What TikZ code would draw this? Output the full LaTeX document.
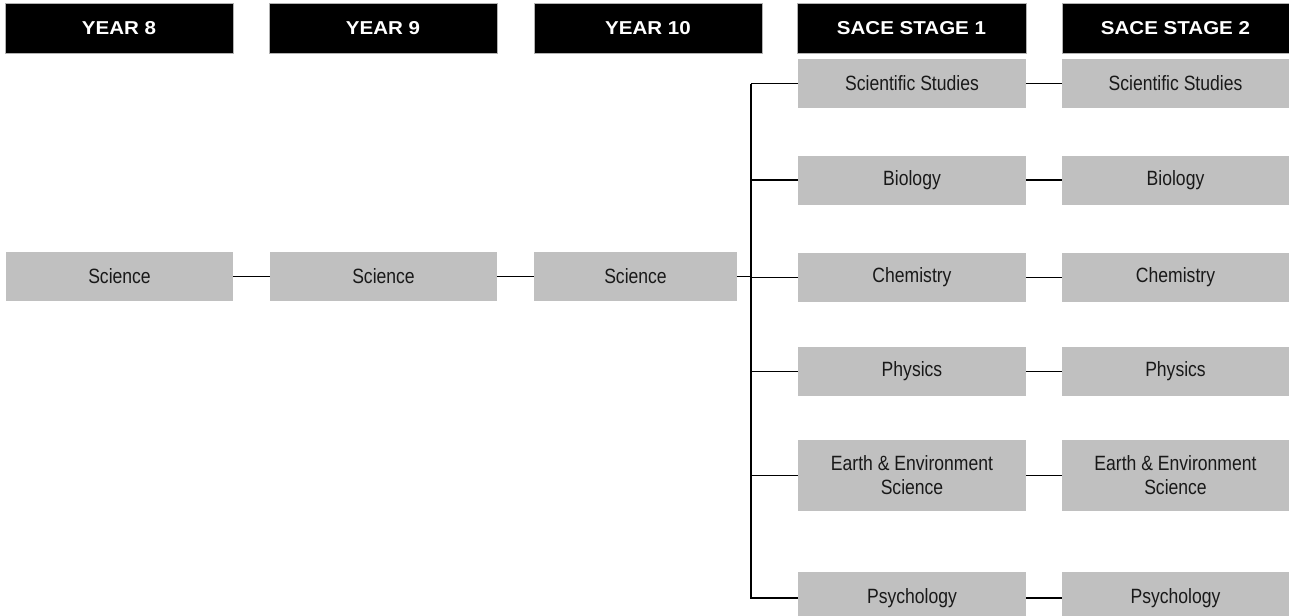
\documentclass[tikz,border=0pt]{standalone}
\usepackage{fontspec}
\setmainfont{Liberation Sans}
\newfontfamily\bodyfont[FakeStretch=0.85]{Liberation Sans}
\newfontfamily\hdrfont[FakeStretch=1.1]{Liberation Sans}
\definecolor{boxgrey}{HTML}{C0C0C0}
\tikzset{
  hdr/.style={fill=black, draw=gray!60, line width=0.4pt, text=white, font=\hdrfont\fontsize{14}{17}\selectfont\bfseries, inner sep=0pt, minimum height=37.5pt},
  subj/.style={fill=boxgrey, draw=none, text=black!90, font=\bodyfont\fontsize{15.5}{18}\selectfont, inner sep=0pt, align=center, minimum height=36.75pt},
  link/.style={line width=1.2pt, black}
}
\begin{document}
\begin{tikzpicture}[x=0.75pt, y=-0.75pt]
\useasboundingbox (0,0) rectangle (1289,615);
\clip (0,0) rectangle (1289,615);
% headers
\node[hdr, minimum width=171pt] (h8) at (119,28) {YEAR 8};
\node[hdr, minimum width=171pt] (h9) at (383,28) {YEAR 9};
\node[hdr, minimum width=171pt] (h10) at (648,28) {YEAR 10};
\node[hdr, minimum width=171.75pt] (h1) at (911.5,28) {SACE STAGE 1};
\node[hdr, minimum width=170.25pt] (h2) at (1175.5,28) {SACE STAGE 2};
% science
\node[subj, minimum width=170.25pt] (s8) at (119.5,276.5) {Science};
\node[subj, minimum width=170.25pt] (s9) at (383.5,276.5) {Science};
\node[subj, minimum width=152.25pt] (s10) at (635.5,276.5) {Science};
% stage 1
\node[subj, minimum width=171pt] (a1) at (912,83.5) {Scientific Studies};
\node[subj, minimum width=171pt] (a2) at (912,180) {Biology};
\node[subj, minimum width=171pt] (a3) at (912,277.5) {Chemistry};
\node[subj, minimum width=171pt] (a4) at (912,371.5) {Physics};
\node[subj, minimum width=171pt, minimum height=53.25pt] (a5) at (912,475.5) {Earth \& Environment\\Science};
\node[subj, minimum width=171pt, minimum height=39pt] (a6) at (912,598) {Psychology};
% stage 2
\node[subj, minimum width=170.25pt] (b1) at (1175.5,83.5) {Scientific Studies};
\node[subj, minimum width=170.25pt] (b2) at (1175.5,180) {Biology};
\node[subj, minimum width=170.25pt] (b3) at (1175.5,277.5) {Chemistry};
\node[subj, minimum width=170.25pt] (b4) at (1175.5,371.5) {Physics};
\node[subj, minimum width=170.25pt, minimum height=53.25pt] (b5) at (1175.5,475.5) {Earth \& Environment\\Science};
\node[subj, minimum width=170.25pt, minimum height=39pt] (b6) at (1175.5,598) {Psychology};
% trunk
\coordinate (trunk) at (751,0);
\draw[link] (trunk |- a1.west) -- (a1.west);
\draw[link] (trunk |- a1.west) -- (trunk |- a6.west) -- (a6.west);
\foreach \n in {a2,a3,a4,a5} \draw[link] (trunk |- \n.west) -- (\n.west);
\draw[link] (s8.east) -- (s9.west);
\draw[link] (s9.east) -- (s10.west);
\draw[link] (s10.east) -- (trunk |- s10.east);
\foreach \i in {1,...,6} \draw[link] (a\i.east) -- (b\i.west);
\end{tikzpicture}
\end{document}
